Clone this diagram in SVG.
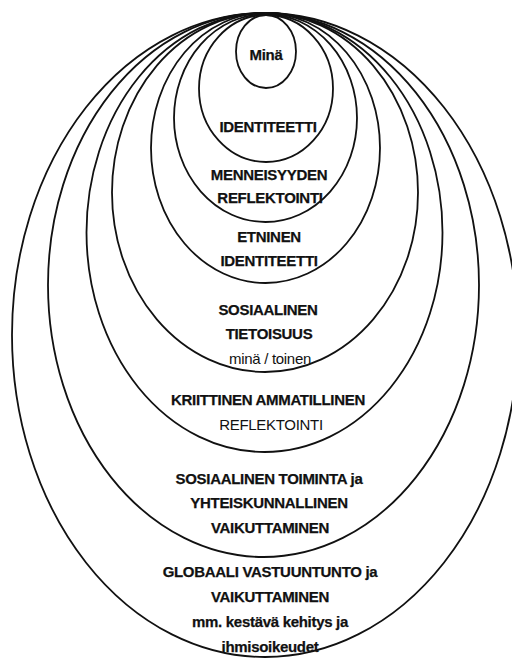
<svg xmlns="http://www.w3.org/2000/svg" width="512" height="658" viewBox="0 0 512 658">
<style>
.ring{fill:none;stroke:#111;stroke-width:1.8}
text{font-family:"Liberation Sans",Arial,sans-serif;font-size:15px;fill:#111;text-anchor:middle;letter-spacing:-0.3px}
.b{font-weight:bold;stroke:#111;stroke-width:0.25}
</style>
<rect width="512" height="658" fill="#fff"/>
<g id="globaali">
<ellipse class="ring" cx="265" cy="335" rx="253" ry="322"/>
<text class="b" x="270" y="577">GLOBAALI VASTUUNTUNTO ja</text>
<text class="b" x="270" y="602">VAIKUTTAMINEN</text>
<text class="b" x="270" y="627">mm. kestävä kehitys ja</text>
<text class="b" x="270" y="652">ihmisoikeudet</text>
</g>
<g id="sosiaalinen-toiminta">
<ellipse class="ring" cx="263.5" cy="285" rx="215.5" ry="272"/>
<text class="b" x="269" y="484">SOSIAALINEN TOIMINTA ja</text>
<text class="b" x="269" y="508">YHTEISKUNNALLINEN</text>
<text class="b" x="270" y="533">VAIKUTTAMINEN</text>
</g>
<g id="kriittinen">
<ellipse class="ring" cx="264.5" cy="232.5" rx="178" ry="219.5"/>
<text class="b" x="268" y="405">KRIITTINEN AMMATILLINEN</text>
<text x="271" y="430">REFLEKTOINTI</text>
</g>
<g id="sosiaalinen-tietoisuus">
<ellipse class="ring" cx="265" cy="192.5" rx="153" ry="179.5"/>
<text class="b" x="268" y="315">SOSIAALINEN</text>
<text class="b" x="269" y="339">TIETOISUUS</text>
<text x="270" y="364">minä / toinen</text>
</g>
<g id="etninen">
<ellipse class="ring" cx="265.5" cy="148" rx="114.5" ry="135"/>
<text class="b" x="269" y="242">ETNINEN</text>
<text class="b" x="269" y="266">IDENTITEETTI</text>
</g>
<g id="menneisyyden">
<ellipse class="ring" cx="265.5" cy="118" rx="91.5" ry="104"/>
<text class="b" x="269" y="180">MENNEISYYDEN</text>
<text class="b" x="270" y="203">REFLEKTOINTI</text>
</g>
<g id="identiteetti">
<ellipse class="ring" cx="266" cy="88.5" rx="67" ry="73.5"/>
<text class="b" x="268" y="132">IDENTITEETTI</text>
</g>
<g id="mina">
<ellipse class="ring" cx="266" cy="51.5" rx="30" ry="36.5"/>
<text class="b" x="266" y="60">Minä</text>
</g>
</svg>
